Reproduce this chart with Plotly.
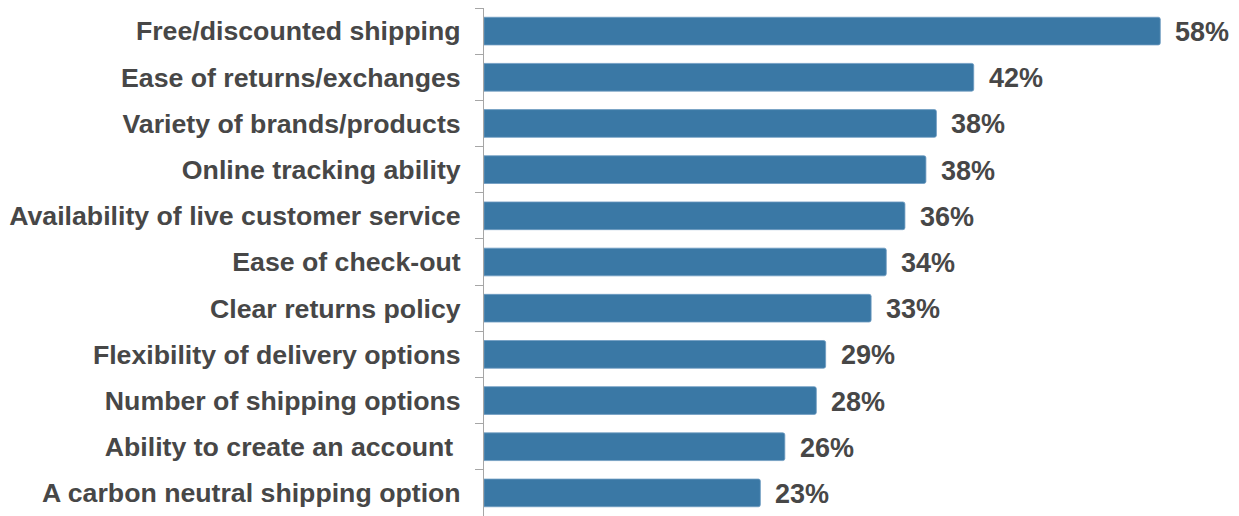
import plotly.graph_objects as go

categories = [
    "Free/discounted shipping",
    "Ease of returns/exchanges",
    "Variety of brands/products",
    "Online tracking ability",
    "Availability of live customer service",
    "Ease of check-out",
    "Clear returns policy",
    "Flexibility of delivery options",
    "Number of shipping options",
    "Ability to create an account\u00a0",
    "A carbon neutral shipping option",
]
# bar lengths as drawn (percent)
values = [58.0, 42.0, 38.8, 37.9, 36.1, 34.5, 33.2, 29.3, 28.5, 25.8, 23.7]
# printed labels
labels = ["58%", "42%", "38%", "38%", "36%", "34%", "33%", "29%", "28%", "26%", "23%"]

BAR_COLOR = "#3A78A5"
TEXT_COLOR = "#474747"
FONT = "Liberation Sans, Arial, sans-serif"

fig = go.Figure()
fig.add_trace(go.Bar(
    x=values,
    y=categories,
    orientation="h",
    width=0.6,
    marker=dict(color=BAR_COLOR, line=dict(color="#6f9cc2", width=0.8), cornerradius=2),
    hoverinfo="skip",
))

for v, c, t in zip(values, categories, labels):
    fig.add_annotation(
        x=v, y=c, text=f"<b>{t}</b>", showarrow=False,
        xanchor="left", yanchor="middle", xshift=13, yshift=-1,
        font=dict(family=FONT, size=27, color=TEXT_COLOR),
    )

fig.update_layout(
    width=1239, height=516,
    margin=dict(l=476, r=8, t=0, b=8),
    paper_bgcolor="white", plot_bgcolor="white",
    showlegend=False,
    xaxis=dict(range=[0, 64.75], visible=False, fixedrange=True),
    yaxis=dict(
        type="category",
        autorange="reversed",
        tickson="boundaries",
        ticks="outside", ticklen=8, tickcolor="#a6a6a6", tickwidth=1,
        showline=True, linecolor="#a6a6a6", linewidth=1,
        showgrid=False,
        ticklabelstandoff=17,
        tickfont=dict(family=FONT, size=26.7, color=TEXT_COLOR, weight="bold"),
    ),
)

fig.write_html("out.html")
